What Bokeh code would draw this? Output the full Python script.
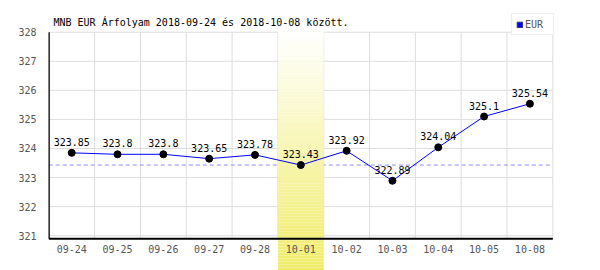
from bokeh.plotting import figure
from bokeh.models import Range1d, LinearAxis, FixedTicker, Label, Legend, LegendItem, ColumnDataSource
from bokeh.core.properties import value
from bokeh.embed import file_html
from bokeh.resources import INLINE

# ---- data ----
dates = ["09-24", "09-25", "09-26", "09-27", "09-28", "10-01", "10-02", "10-03", "10-04", "10-05", "10-08"]
rates = [323.85, 323.8, 323.8, 323.65, 323.78, 323.43, 323.92, 322.89, 324.04, 325.1, 325.54]
rate_labels = ["323.85", "323.8", "323.8", "323.65", "323.78", "323.43", "323.92", "322.89", "324.04", "325.1", "325.54"]
y_ticks = [321, 322, 323, 324, 325, 326, 327, 328]
highlight = "10-01"
series_name = "EUR"
title_text = "MNB EUR Árfolyam 2018-09-24 és 2018-10-08 között."

# ---- pixel geometry helpers (layout only) ----
W, H = 600, 270
LEFT = 48
K = 29.07          # px per unit on y
Y321 = 235.2       # pixel row of value 321
XL = 48.3          # pixel of left category edge
CW = 45.82         # px per category

def yv(px):
    return 321 + (Y321 - px) / K

def xv(px):
    return -0.5 + (px - XL) / CW

xs = list(range(len(dates)))
hi = dates.index(highlight)
ref_value = rates[hi]

p = figure(width=W, height=H, output_backend="svg", toolbar_location=None,
           x_range=Range1d(xv(LEFT), xv(W)), y_range=Range1d(yv(H), yv(0)),
           x_axis_type=None, y_axis_type=None,
           min_border_left=LEFT, min_border_right=0, min_border_top=0, min_border_bottom=0)
p.outline_line_color = None
p.background_fill_color = "white"
p.border_fill_color = "white"

yaxis = LinearAxis(ticker=FixedTicker(ticks=y_ticks))
yaxis.axis_line_color = None
yaxis.major_tick_line_color = None
yaxis.minor_tick_line_color = None
yaxis.major_label_standoff = 6
yaxis.major_label_text_font = "DejaVu Sans Mono"
yaxis.major_label_text_font_size = "10px"
yaxis.major_label_text_color = "#555555"
p.add_layout(yaxis, "left")

x_lo, x_hi = -0.5, len(dates) - 0.5
y_axis_val = yv(238.3)
grid_col = "#dddddd"

# horizontal gridlines
p.segment(x0=[x_lo] * len(y_ticks), x1=[x_hi] * len(y_ticks), y0=y_ticks, y1=y_ticks,
          line_color=grid_col, line_width=1)
# vertical gridlines at category boundaries
bounds = [i + 0.5 for i in xs]
p.segment(x0=bounds, x1=bounds, y0=[y_axis_val] * len(bounds), y1=[max(y_ticks)] * len(bounds),
          line_color=grid_col, line_width=1)

# reference dashed line
p.segment(x0=[x_lo], x1=[x_hi], y0=[ref_value], y1=[ref_value],
          line_color="#8c8cff", line_width=1, line_dash="4 3")

# highlighted band with vertical gradient (white -> yellow)
N = 80
top_v, bot_v = yv(31), yv(H)
c0 = (255, 255, 255)
c1 = (240, 236, 104)
lefts, rights, tops, bots, cols = [], [], [], [], []
for i in range(N):
    t0 = top_v + (bot_v - top_v) * i / N
    t1 = top_v + (bot_v - top_v) * (i + 1) / N
    f = (i + 0.5) / N
    c = tuple(int(round(c0[j] + (c1[j] - c0[j]) * f)) for j in range(3))
    lefts.append(hi - 0.5); rights.append(hi + 0.5)
    tops.append(t0); bots.append(t1)
    cols.append("#%02x%02x%02x" % c)
p.quad(left=lefts, right=rights, top=tops, bottom=bots, fill_color=cols, line_color=None)

# axis lines
p.segment(x0=[x_lo], x1=[x_hi], y0=[y_axis_val], y1=[y_axis_val], line_color="black", line_width=2)
p.segment(x0=[x_lo], x1=[x_lo], y0=[y_axis_val], y1=[max(y_ticks)], line_color="black", line_width=2)

# x tick labels
p.text(x=xs, y=[yv(248)] * len(xs), text=dates, text_align="center", text_baseline="middle",
       text_font=value("DejaVu Sans Mono"), text_font_size="10px", text_color="#555555")

# data
src = ColumnDataSource(dict(x=xs, y=rates, lab=rate_labels))
# zero-size swatch renderer (sits under the first point) used only for the legend glyph
leg_r = p.quad(left=xs[:1], right=xs[:1], top=rates[:1], bottom=rates[:1],
               fill_color="#0000ff", line_color="#333366", line_width=1)
p.line("x", "y", source=src, line_color="#0000ff", line_width=1)
p.scatter("x", "y", source=src, size=7, fill_color="black", line_color="black")
p.text("x", "y", text="lab", source=src, text_align="center", text_baseline="alphabetic",
       y_offset=-11, text_font=value("DejaVu Sans Mono"), text_font_size="10px", text_color="black")

# title
p.add_layout(Label(x=xv(53), y=yv(22), text=title_text, text_font="DejaVu Sans Mono",
                   text_font_size="10px", text_color="black", text_baseline="alphabetic"))

# legend
legend = Legend(items=[LegendItem(label=series_name, renderers=[leg_r])],
                location=(511 - LEFT, H - 35),
                glyph_width=7, glyph_height=7, label_height=12, label_width=24,
                label_standoff=2, padding=4, spacing=0,
                label_text_font="DejaVu Sans Mono", label_text_font_size="10px",
                label_text_color="#555555", border_line_color="#dddddd", border_line_width=1.5,
                background_fill_color="white", background_fill_alpha=1.0)
p.add_layout(legend, "center")

open("out.html", "w").write(file_html(p, INLINE))
